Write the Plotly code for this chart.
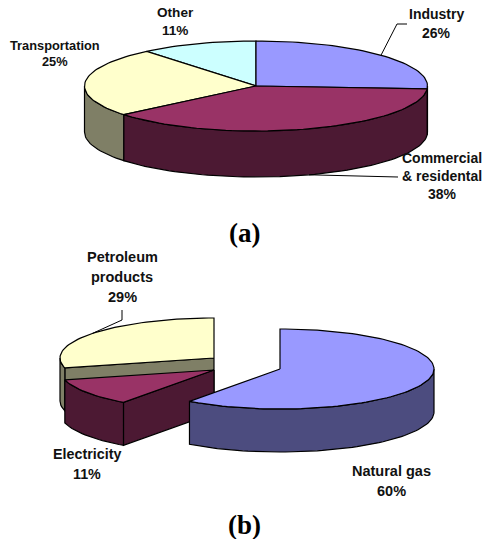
"""3D energy-share pies, (a) end use and (b) source, drawn as filled polygons."""

import numpy as np
import plotly.graph_objects as go

# pie (a)
names_a = ["Industry", "Commercial\n& residental", "Transportation", "Other"]
shares_a = [26, 38, 25, 11]
# pie (b)
names_b = ["Natural gas", "Electricity", "Petroleum\nproducts"]
shares_b = [60, 11, 29]

TOP_COLORS = ["#9999FF", "#993366", "#FFFFCC", "#CCFFFF"]
WALL_COLORS = ["#4C4C7F", "#4C1933", "#7F7F66", "#667F7F"]

WIDTH, HEIGHT = 482, 539
CAPTION_FONT = dict(family="Liberation Serif", size=27, color="black")
EDGE = dict(color="black", width=1.2)


def rim(cx, cy, rx, ry, start, end):
    """Rim points between two clockwise angles (degrees from 12 o'clock)."""
    steps = max(2, int(abs(end - start) / 2) + 1)
    theta = np.radians(np.linspace(start, end, steps))
    return cx + rx * np.sin(theta), cy - ry * np.cos(theta)


def add_poly(fig, xs, ys, color):
    fig.add_trace(
        go.Scatter(
            x=xs,
            y=ys,
            mode="lines",
            fill="toself",
            fillcolor=color,
            line=EDGE,
            hoverinfo="skip",
            showlegend=False,
        )
    )


def add_slice(fig, cx, cy, rx, ry, depth, start, end, top, wall, radial):
    # radial wall, only seen on a pulled-out slice
    if radial and 180 < start < 360:
        ex, ey = rim(cx, cy, rx, ry, start, start)
        add_poly(
            fig,
            [cx, ex[0], ex[0], cx, cx],
            [cy, ey[0], ey[0] + depth, cy + depth, cy],
            wall,
        )
    # outer wall, front half of the rim only
    lo, hi = max(start, 90), min(end, 270)
    if lo < hi:
        wx, wy = rim(cx, cy, rx, ry, lo, hi)
        add_poly(
            fig,
            np.concatenate([wx, wx[::-1], wx[:1]]),
            np.concatenate([wy, wy[::-1] + depth, wy[:1]]),
            wall,
        )
    tx, ty = rim(cx, cy, rx, ry, start, end)
    add_poly(
        fig,
        np.concatenate([[cx], tx, [cx]]),
        np.concatenate([[cy], ty, [cy]]),
        top,
    )


def slice_angles(shares):
    edges = np.cumsum([0] + list(shares)) * 3.6
    return edges[:-1], edges[1:]


def add_label(fig, x, y, lines, gap, size):
    for i, line in enumerate(lines):
        fig.add_annotation(
            x=x, y=y + i * gap, text=f"<b>{line}</b>", showarrow=False,
            xanchor="center", yanchor="middle",
            font=dict(family="Liberation Sans", size=size, color="#111111"),
        )


def add_leader(fig, cx, cy, rx, ry, drop, mid, elbow):
    mx, my = rim(cx, cy, rx, ry, mid, mid)
    xs = [mx[0]] + [p[0] for p in elbow]
    ys = [my[0] + drop] + [p[1] for p in elbow]
    fig.add_trace(
        go.Scatter(
            x=xs, y=ys, mode="lines", line=dict(color="black", width=1),
            hoverinfo="skip", showlegend=False,
        )
    )


fig = go.Figure()

# --- pie (a) ---
ax, ay, arx, ary, adepth = 256, 86, 171.5, 45, 46
starts, ends = slice_angles(shares_a)
for i in [3, 2, 0, 1]:
    add_slice(fig, ax, ay, arx, ary, adepth, starts[i], ends[i],
              TOP_COLORS[i], WALL_COLORS[i], False)
add_leader(fig, ax, ay, arx, ary, 0, (starts[0] + ends[0]) / 2, [(397, 24), (407, 24)])
add_leader(fig, ax, ay, arx, ary, adepth, (starts[1] + ends[1]) / 2, [(398, 177)])

add_label(fig, 436, 14, [names_a[0], f"{shares_a[0]}%"], 19, 14)
add_label(fig, 442, 158, names_a[1].split("\n") + [f"{shares_a[1]}%"], 18, 14)
add_label(fig, 55, 45, [names_a[2], f"{shares_a[2]}%"], 16, 12.8)
add_label(fig, 175, 12, [names_a[3], f"{shares_a[3]}%"], 18, 13.6)
fig.add_annotation(x=244, y=233, text="<b>(a)</b>", showarrow=False, font=CAPTION_FONT)

# --- pie (b) ---
brx, bry, bdepth = 154, 40, 43
centers_b = [(280, 369), (214, 370), (214, 358)]
starts, ends = slice_angles(shares_b)
for i in [2, 1, 0]:
    cx, cy = centers_b[i]
    add_slice(fig, cx, cy, brx, bry, bdepth, starts[i], ends[i],
              TOP_COLORS[i], WALL_COLORS[i], True)
add_leader(fig, *centers_b[2], brx, bry, 0, (starts[2] + ends[2]) / 2, [(122, 320), (122, 310)])

add_label(fig, 391, 471, [names_b[0], f"{shares_b[0]}%"], 20, 14.5)
add_label(fig, 87, 454, [names_b[1], f"{shares_b[1]}%"], 20, 14.3)
add_label(fig, 122, 257, names_b[2].split("\n") + [f"{shares_b[2]}%"], 20, 14.5)
fig.add_annotation(x=244, y=525, text="<b>(b)</b>", showarrow=False, font=CAPTION_FONT)

fig.update_xaxes(range=[0, WIDTH], visible=False, fixedrange=True)
fig.update_yaxes(range=[HEIGHT, 0], visible=False, fixedrange=True)
fig.update_layout(
    width=WIDTH,
    height=HEIGHT,
    margin=dict(l=0, r=0, t=0, b=0),
    plot_bgcolor="white",
    paper_bgcolor="white",
)
fig.write_html(
    "out.html",
    config={"displayModeBar": False},
    post_script="document.body.style.margin='0';document.body.style.overflow='hidden';",
)
